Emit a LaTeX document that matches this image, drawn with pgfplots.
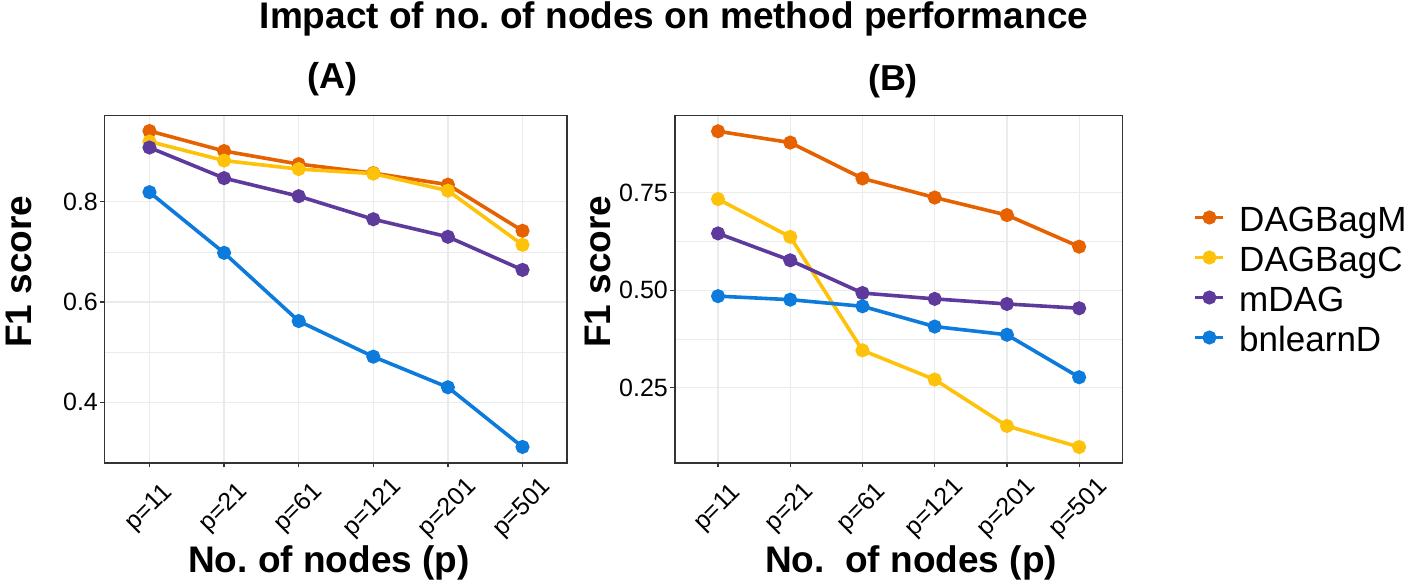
\documentclass[border=0pt]{standalone}
\usepackage{fontspec}
\setmainfont{Liberation Sans}
\usepackage{pgfplots}
\pgfplotsset{compat=1.18}
\definecolor{cM}{HTML}{E66100}
\definecolor{cC}{HTML}{FFC20A}
\definecolor{cD}{HTML}{5D3A9B}
\definecolor{cB}{HTML}{0C7BDC}
\definecolor{gridc}{HTML}{EBEBEB}
\definecolor{framec}{HTML}{333333}
\pgfplotsset{
  panel/.style={
    scale only axis, height=173.65pt,
    xmin=-0.6, xmax=5.6,
    xtick={0,1,2,3,4,5},
    xticklabels={p=11,p=21,p=61,p=121,p=201,p=501},
    tick align=outside, major tick length=2.2pt, minor tick length=0pt,
    tick style={framec, line width=0.6pt},
    xtick pos=bottom, ytick pos=left,
    axis line style={framec, line width=0.8pt},
    grid=both,
    major grid style={gridc, line width=0.6pt},
    minor grid style={gridc, line width=0.35pt},
    minor y tick num=1,
    /pgf/number format/assume math mode=true,
    every tick label/.append style={font=\fontsize{12.5}{12.5}\selectfont, text=black},
    xticklabel style={yshift=-20.5pt, rotate=45, anchor=center},
    yticklabel style={inner sep=1pt},
    every axis plot/.append style={line width=1.8pt, mark=*, mark size=2.6pt},
  }
}
\begin{document}
\begin{tikzpicture}
\path[use as bounding box] (0,0) rectangle (707.5pt,292pt);
% Panel A
\begin{axis}[panel, at={(52.35pt,60.5pt)}, anchor=south west, width=231.3pt,
  ymin=0.279, ymax=0.9715, ytick={0.4,0.6,0.8}]
\addplot[cM] coordinates {(0,0.941) (1,0.901) (2,0.875) (3,0.857) (4,0.834) (5,0.742)};
\addplot[cC] coordinates {(0,0.920) (1,0.882) (2,0.865) (3,0.856) (4,0.822) (5,0.714)};
\addplot[cD] coordinates {(0,0.908) (1,0.847) (2,0.811) (3,0.765) (4,0.730) (5,0.664)};
\addplot[cB] coordinates {(0,0.819) (1,0.698) (2,0.562) (3,0.491) (4,0.430) (5,0.311)};
\end{axis}
% Panel B
\begin{axis}[panel, at={(337.35pt,60.5pt)}, anchor=south west, width=223.9pt,
  ymin=0.057, ymax=0.948, ytick={0.25,0.5,0.75},
  yticklabel style={/pgf/number format/.cd, fixed, fixed zerofill, precision=2},
  legend style={at={(axis description cs:1.158,0.511)}, anchor=west, draw=none, fill=none,
    inner sep=0pt, font=\fontsize{17.5}{17.5}\selectfont, row sep=0pt,
    nodes={inner sep=0pt, text height=13pt, text depth=7pt},
    /tikz/every odd column/.append style={column sep=7pt}},
  legend cell align=left,
  legend image code/.code={\draw[#1, mark repeat=2, mark phase=2] plot coordinates {(0pt,4pt) (7pt,4pt) (14pt,4pt)};}]
\addplot[cM] coordinates {(0,0.908) (1,0.879) (2,0.787) (3,0.738) (4,0.693) (5,0.612)};
\addlegendentry{DAGBagM}
\addplot[cC] coordinates {(0,0.734) (1,0.637) (2,0.346) (3,0.271) (4,0.152) (5,0.098)};
\addlegendentry{DAGBagC}
\addplot[cD] coordinates {(0,0.646) (1,0.577) (2,0.493) (3,0.478) (4,0.465) (5,0.454)};
\addlegendentry{mDAG}
\addplot[cB] coordinates {(0,0.485) (1,0.476) (2,0.459) (3,0.407) (4,0.386) (5,0.277)};
\addlegendentry{bnlearnD}
\end{axis}
% Titles
\node[anchor=base, font=\fontsize{18.5}{18.5}\selectfont\bfseries] at (337pt,277.5pt) {Impact of no.\ of nodes on method performance};
\node[anchor=base, font=\fontsize{18}{18}\selectfont\bfseries] at (166.3pt,247.8pt) {(A)};
\node[anchor=base, font=\fontsize{18}{18}\selectfont\bfseries] at (446.5pt,246.5pt) {(B)};
\node[anchor=base, font=\fontsize{18.5}{18.5}\selectfont\bfseries] at (164.5pt,5.5pt) {No.\ of nodes (p)};
\node[anchor=base, font=\fontsize{18.5}{18.5}\selectfont\bfseries] at (455.5pt,5.5pt) {No.\ \ of nodes (p)};
\node[anchor=base, rotate=90, font=\fontsize{18.5}{18.5}\selectfont\bfseries] at (15.85pt,156.15pt) {F1 score};
\node[anchor=base, rotate=90, font=\fontsize{18.5}{18.5}\selectfont\bfseries] at (305.25pt,156.15pt) {F1 score};
\end{tikzpicture}
\end{document}
